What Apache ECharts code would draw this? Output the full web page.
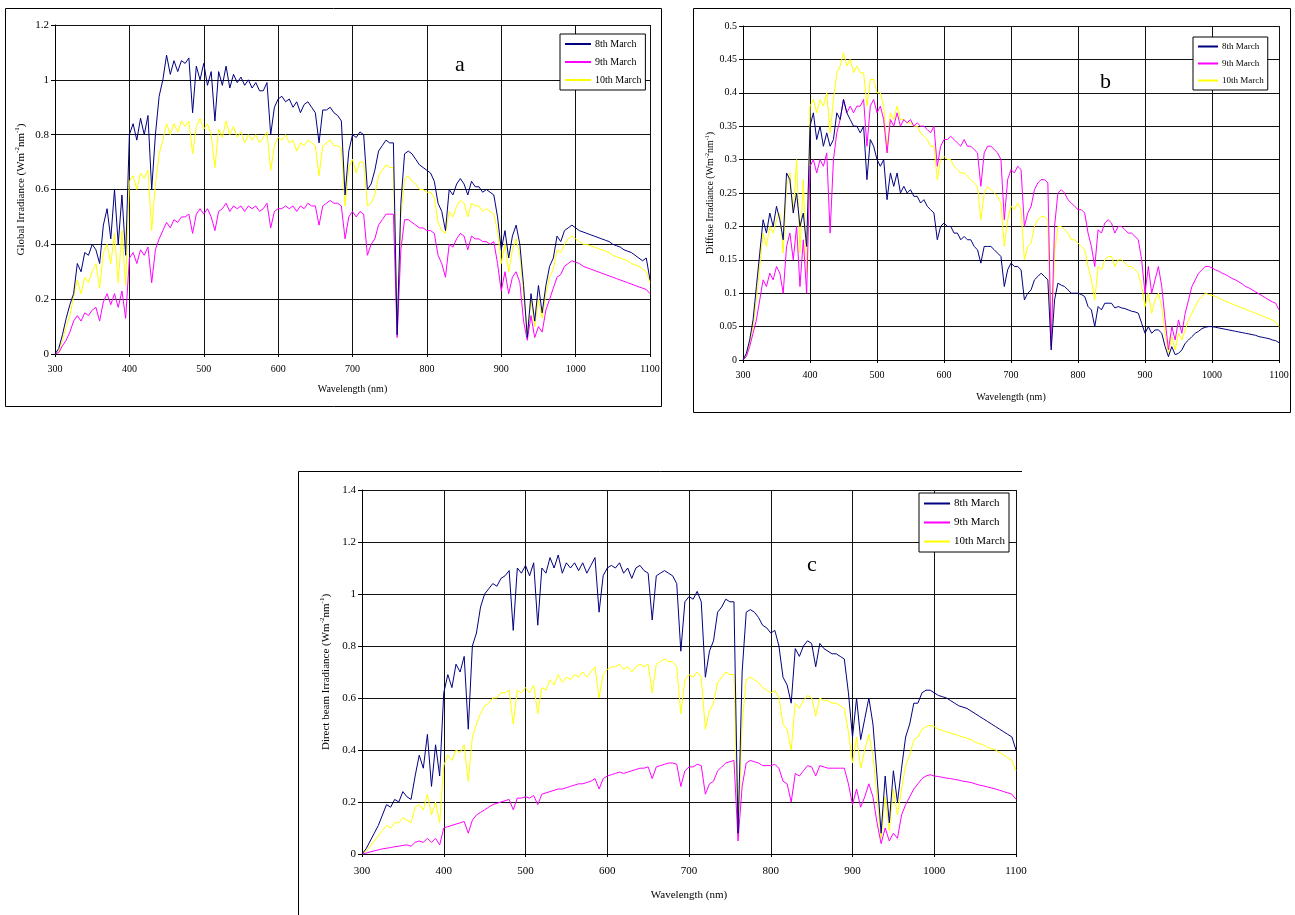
<!DOCTYPE html>
<html>
<head>
<meta charset="utf-8">
<script src="https://cdn.jsdelivr.net/npm/echarts@6/dist/echarts.min.js"></script>
<style>
  html, body { margin: 0; padding: 0; background: #fff; }
  #chart { width: 1295px; height: 915px; }
</style>
</head>
<body>
<div id="chart"></div>
<script>
// wavelength grid (nm)
const wavelengths = [
  300,305,310,315,320,325,330,335,340,345,350,355,360,365,370,375,380,385,390,395,
  400,405,410,415,420,425,430,435,440,445,450,455,460,465,470,475,480,485,490,495,
  500,505,510,515,520,525,530,535,540,545,550,555,560,565,570,575,580,585,590,595,
  600,605,610,615,620,625,630,635,640,645,650,655,660,665,670,675,680,685,690,695,
  700,705,710,715,720,725,730,735,740,745,750,755,760,765,770,775,780,785,790,795,
  800,805,810,815,820,825,830,835,840,845,850,855,860,865,870,875,880,885,890,895,
  900,905,910,915,920,925,930,935,940,945,950,955,960,965,970,975,980,985,990,995,
  1000,1005,1010,1015,1020,1025,1030,1035,1040,1045,1050,1055,1060,1065,1070,1075,1080,1085,1090,1095,
  1100
];
const seriesNames = ['8th March', '9th March', '10th March'];

// (a) global irradiance
const globalMar8 = [
  0,0.02,0.07,0.13,0.18,0.22,0.33,0.30,0.37,0.36,0.40,0.38,0.33,0.47,0.53,0.42,0.60,0.40,0.58,0.36,
  0.80,0.84,0.78,0.86,0.80,0.87,0.60,0.80,0.94,1.00,1.09,1.02,1.07,1.03,1.07,1.06,1.08,0.88,1.05,1.00,
  1.06,0.98,1.03,0.85,1.03,0.98,1.05,0.97,1.02,0.99,1.01,0.98,1.00,0.97,0.99,0.96,0.96,0.99,0.80,0.90,
  0.93,0.94,0.92,0.93,0.90,0.92,0.88,0.91,0.92,0.90,0.88,0.77,0.89,0.89,0.90,0.88,0.87,0.85,0.58,0.74,
  0.80,0.79,0.81,0.80,0.60,0.62,0.67,0.74,0.76,0.78,0.77,0.77,0.07,0.55,0.73,0.74,0.73,0.71,0.69,0.68,
  0.67,0.66,0.63,0.55,0.52,0.45,0.60,0.58,0.62,0.64,0.62,0.58,0.63,0.61,0.61,0.59,0.60,0.59,0.58,0.50,
  0.38,0.45,0.35,0.43,0.47,0.40,0.25,0.06,0.22,0.12,0.25,0.15,0.25,0.32,0.35,0.43,0.41,0.45,0.46,0.47,
  0.46,0.45,0.445,0.44,0.435,0.43,0.425,0.42,0.415,0.41,0.40,0.395,0.39,0.38,0.375,0.37,0.36,0.35,0.34,0.35,
  0.27
];
const globalMar9 = [
  0,0.005,0.03,0.05,0.08,0.12,0.14,0.12,0.15,0.14,0.16,0.17,0.12,0.19,0.22,0.18,0.22,0.17,0.23,0.13,
  0.35,0.37,0.33,0.38,0.36,0.39,0.26,0.38,0.42,0.45,0.48,0.46,0.49,0.48,0.50,0.50,0.51,0.44,0.51,0.53,
  0.51,0.53,0.50,0.45,0.52,0.53,0.55,0.52,0.54,0.53,0.54,0.52,0.54,0.53,0.54,0.52,0.53,0.55,0.46,0.52,
  0.53,0.53,0.54,0.53,0.54,0.52,0.54,0.53,0.55,0.54,0.54,0.47,0.54,0.55,0.56,0.55,0.55,0.54,0.42,0.50,
  0.52,0.50,0.52,0.51,0.36,0.40,0.42,0.47,0.49,0.51,0.51,0.51,0.06,0.38,0.49,0.49,0.48,0.47,0.46,0.46,
  0.45,0.45,0.44,0.36,0.33,0.28,0.40,0.39,0.42,0.44,0.43,0.38,0.43,0.42,0.42,0.41,0.41,0.40,0.41,0.33,
  0.23,0.30,0.22,0.28,0.30,0.26,0.12,0.05,0.14,0.06,0.10,0.08,0.16,0.20,0.24,0.28,0.29,0.32,0.33,0.34,
  0.335,0.33,0.32,0.315,0.31,0.305,0.30,0.295,0.29,0.285,0.28,0.275,0.27,0.265,0.26,0.255,0.25,0.245,0.24,0.235,
  0.22
];
const globalMar10 = [
  0,0.01,0.05,0.10,0.14,0.21,0.27,0.22,0.28,0.26,0.30,0.33,0.24,0.37,0.40,0.33,0.44,0.26,0.45,0.25,
  0.63,0.65,0.60,0.66,0.64,0.67,0.45,0.62,0.73,0.78,0.84,0.80,0.84,0.81,0.85,0.83,0.85,0.73,0.83,0.86,
  0.82,0.84,0.80,0.68,0.82,0.79,0.85,0.80,0.83,0.79,0.81,0.77,0.80,0.78,0.80,0.77,0.79,0.81,0.67,0.76,
  0.79,0.78,0.80,0.77,0.78,0.74,0.77,0.76,0.78,0.77,0.76,0.65,0.76,0.77,0.78,0.76,0.76,0.75,0.54,0.68,
  0.71,0.66,0.70,0.70,0.54,0.55,0.58,0.65,0.67,0.69,0.68,0.68,0.09,0.50,0.64,0.65,0.63,0.62,0.60,0.60,
  0.59,0.59,0.57,0.48,0.45,0.44,0.52,0.50,0.54,0.56,0.55,0.50,0.55,0.54,0.54,0.52,0.53,0.52,0.51,0.45,
  0.33,0.40,0.30,0.38,0.42,0.36,0.22,0.07,0.20,0.10,0.20,0.13,0.22,0.28,0.31,0.38,0.37,0.40,0.42,0.43,
  0.42,0.41,0.40,0.40,0.395,0.39,0.385,0.38,0.375,0.37,0.36,0.355,0.35,0.345,0.34,0.33,0.325,0.32,0.31,0.30,
  0.26
];

// (b) diffuse irradiance
const diffuseMar8 = [
  0,0.01,0.03,0.06,0.11,0.16,0.21,0.19,0.22,0.20,0.23,0.21,0.18,0.28,0.27,0.22,0.25,0.20,0.22,0.17,
  0.35,0.37,0.33,0.35,0.32,0.34,0.32,0.33,0.37,0.36,0.39,0.37,0.36,0.35,0.35,0.34,0.35,0.27,0.33,0.32,
  0.30,0.29,0.30,0.24,0.28,0.26,0.28,0.25,0.26,0.25,0.255,0.245,0.245,0.235,0.24,0.23,0.225,0.22,0.18,0.20,
  0.205,0.20,0.20,0.19,0.19,0.18,0.185,0.18,0.18,0.17,0.165,0.145,0.17,0.17,0.17,0.165,0.16,0.155,0.11,0.135,
  0.145,0.14,0.14,0.135,0.09,0.10,0.105,0.12,0.125,0.13,0.125,0.12,0.015,0.09,0.115,0.112,0.11,0.105,0.10,0.10,
  0.10,0.098,0.095,0.08,0.075,0.05,0.08,0.075,0.085,0.085,0.085,0.078,0.08,0.078,0.077,0.075,0.073,0.072,0.07,0.055,
  0.04,0.05,0.04,0.045,0.045,0.04,0.02,0.005,0.02,0.008,0.01,0.015,0.025,0.03,0.035,0.04,0.043,0.047,0.049,0.05,
  0.05,0.049,0.048,0.047,0.046,0.045,0.044,0.043,0.042,0.041,0.04,0.039,0.038,0.037,0.035,0.034,0.033,0.032,0.03,0.029,
  0.026
];
const diffuseMar9 = [
  0,0.005,0.02,0.04,0.06,0.09,0.12,0.11,0.13,0.12,0.14,0.13,0.10,0.17,0.19,0.15,0.20,0.11,0.18,0.10,
  0.29,0.30,0.28,0.30,0.29,0.31,0.19,0.30,0.34,0.36,0.39,0.37,0.38,0.37,0.38,0.38,0.39,0.32,0.38,0.39,
  0.37,0.38,0.36,0.31,0.36,0.35,0.37,0.35,0.36,0.355,0.36,0.35,0.355,0.35,0.35,0.345,0.34,0.35,0.29,0.32,
  0.33,0.33,0.335,0.33,0.325,0.32,0.33,0.32,0.32,0.315,0.31,0.26,0.31,0.32,0.32,0.315,0.31,0.30,0.21,0.27,
  0.285,0.28,0.29,0.285,0.20,0.22,0.23,0.255,0.265,0.27,0.27,0.265,0.02,0.20,0.25,0.255,0.25,0.24,0.235,0.23,
  0.225,0.225,0.22,0.19,0.17,0.14,0.195,0.19,0.205,0.21,0.205,0.19,0.20,0.20,0.195,0.19,0.19,0.185,0.18,0.15,
  0.10,0.14,0.10,0.12,0.14,0.11,0.06,0.015,0.05,0.03,0.06,0.04,0.07,0.09,0.11,0.12,0.13,0.135,0.14,0.14,
  0.138,0.135,0.133,0.13,0.128,0.125,0.122,0.12,0.117,0.114,0.11,0.108,0.105,0.102,0.099,0.096,0.093,0.09,0.087,0.085,
  0.075
];
const diffuseMar10 = [
  0,0.008,0.025,0.05,0.09,0.14,0.19,0.17,0.20,0.19,0.21,0.22,0.16,0.26,0.28,0.22,0.30,0.16,0.27,0.13,
  0.38,0.39,0.37,0.39,0.38,0.40,0.34,0.39,0.43,0.44,0.46,0.44,0.45,0.43,0.44,0.43,0.43,0.38,0.42,0.42,
  0.40,0.40,0.38,0.31,0.37,0.36,0.38,0.36,0.36,0.355,0.355,0.35,0.35,0.34,0.335,0.33,0.32,0.32,0.27,0.30,
  0.305,0.30,0.30,0.29,0.285,0.28,0.28,0.275,0.27,0.265,0.26,0.21,0.25,0.26,0.255,0.25,0.245,0.235,0.17,0.21,
  0.23,0.225,0.235,0.225,0.15,0.17,0.175,0.20,0.21,0.215,0.215,0.21,0.02,0.16,0.20,0.20,0.195,0.19,0.18,0.18,
  0.175,0.17,0.165,0.14,0.12,0.09,0.14,0.135,0.15,0.155,0.155,0.14,0.15,0.15,0.145,0.14,0.14,0.135,0.13,0.11,
  0.08,0.10,0.07,0.09,0.10,0.08,0.04,0.01,0.035,0.015,0.04,0.03,0.045,0.06,0.07,0.08,0.09,0.095,0.10,0.098,
  0.097,0.095,0.093,0.09,0.088,0.086,0.084,0.082,0.08,0.078,0.076,0.074,0.072,0.07,0.068,0.066,0.064,0.062,0.06,0.057,
  0.05
];

// (c) direct beam irradiance
const directMar8 = [
  0,0.02,0.05,0.08,0.11,0.15,0.19,0.18,0.21,0.20,0.24,0.22,0.21,0.30,0.38,0.33,0.46,0.26,0.42,0.30,
  0.62,0.69,0.64,0.73,0.70,0.76,0.48,0.80,0.85,0.95,1.00,1.02,1.04,1.03,1.06,1.07,1.09,0.86,1.10,1.08,
  1.11,1.07,1.12,0.88,1.10,1.08,1.14,1.10,1.15,1.08,1.12,1.10,1.12,1.09,1.12,1.08,1.11,1.14,0.93,1.07,
  1.10,1.11,1.10,1.12,1.08,1.10,1.06,1.10,1.11,1.09,1.08,0.90,1.07,1.08,1.09,1.08,1.07,1.04,0.78,0.97,
  0.99,0.98,1.01,0.97,0.68,0.78,0.82,0.93,0.95,0.98,0.97,0.97,0.08,0.70,0.93,0.94,0.93,0.91,0.88,0.87,
  0.85,0.86,0.80,0.68,0.65,0.58,0.79,0.76,0.80,0.82,0.81,0.72,0.81,0.79,0.78,0.77,0.77,0.76,0.75,0.62,
  0.45,0.60,0.44,0.52,0.60,0.50,0.30,0.08,0.30,0.12,0.32,0.20,0.33,0.45,0.50,0.58,0.58,0.62,0.63,0.63,
  0.62,0.61,0.605,0.60,0.59,0.58,0.57,0.565,0.56,0.55,0.54,0.53,0.52,0.51,0.50,0.49,0.48,0.47,0.46,0.45,
  0.40
];
const directMar9 = [
  0,0.003,0.008,0.012,0.016,0.02,0.022,0.025,0.028,0.03,0.033,0.035,0.03,0.045,0.05,0.045,0.06,0.045,0.06,0.035,
  0.10,0.105,0.11,0.115,0.12,0.125,0.08,0.13,0.15,0.16,0.17,0.18,0.19,0.195,0.20,0.205,0.21,0.17,0.215,0.215,
  0.22,0.215,0.225,0.19,0.23,0.235,0.24,0.245,0.25,0.25,0.255,0.26,0.265,0.27,0.27,0.275,0.28,0.29,0.25,0.29,
  0.30,0.305,0.31,0.315,0.31,0.315,0.32,0.325,0.33,0.33,0.335,0.29,0.335,0.34,0.345,0.35,0.35,0.345,0.26,0.32,
  0.335,0.335,0.345,0.34,0.23,0.27,0.28,0.32,0.335,0.35,0.355,0.36,0.05,0.26,0.35,0.36,0.355,0.35,0.34,0.34,
  0.34,0.345,0.33,0.28,0.27,0.20,0.31,0.30,0.32,0.34,0.335,0.30,0.34,0.335,0.33,0.33,0.33,0.33,0.33,0.27,
  0.19,0.25,0.18,0.22,0.27,0.22,0.12,0.04,0.10,0.05,0.08,0.06,0.15,0.19,0.22,0.25,0.27,0.29,0.30,0.305,
  0.30,0.298,0.295,0.292,0.29,0.287,0.284,0.28,0.278,0.275,0.27,0.265,0.262,0.258,0.254,0.25,0.245,0.24,0.235,0.23,
  0.21
];
const directMar10 = [
  0,0.01,0.03,0.05,0.07,0.09,0.11,0.10,0.12,0.12,0.14,0.13,0.12,0.18,0.19,0.17,0.23,0.15,0.20,0.12,
  0.34,0.38,0.36,0.40,0.39,0.42,0.28,0.45,0.50,0.54,0.57,0.58,0.60,0.60,0.62,0.62,0.63,0.50,0.63,0.62,
  0.64,0.62,0.65,0.54,0.64,0.63,0.67,0.65,0.69,0.66,0.68,0.67,0.69,0.68,0.70,0.68,0.70,0.72,0.60,0.69,
  0.71,0.72,0.72,0.73,0.71,0.72,0.70,0.72,0.73,0.72,0.73,0.62,0.73,0.74,0.75,0.74,0.74,0.72,0.54,0.67,
  0.69,0.68,0.70,0.68,0.48,0.55,0.58,0.66,0.68,0.70,0.69,0.69,0.07,0.50,0.67,0.68,0.67,0.66,0.64,0.63,
  0.62,0.63,0.60,0.50,0.48,0.40,0.58,0.56,0.59,0.61,0.60,0.53,0.60,0.59,0.59,0.58,0.58,0.57,0.56,0.47,
  0.35,0.45,0.33,0.40,0.46,0.38,0.22,0.06,0.22,0.09,0.25,0.15,0.25,0.34,0.38,0.44,0.45,0.48,0.49,0.495,
  0.49,0.48,0.475,0.47,0.465,0.46,0.455,0.45,0.445,0.44,0.43,0.425,0.42,0.41,0.405,0.40,0.39,0.38,0.37,0.36,
  0.32
];

const colors = ['#000080', '#ff00ff', '#ffff00'];
const serif = 'Liberation Serif';

const chart = echarts.init(document.getElementById('chart'));

function pairs(arr) {
  return wavelengths.map((w, i) => [w, arr[i]]);
}

function yName(label) {
  return '{n|' + label + ' (Wm}{s|-2}{n|nm}{s|-1}{n|)}';
}

function xAxisFor(idx, fs, labelGap, nameGap) {
  return {
    gridIndex: idx, type: 'value', min: 300, max: 1100, interval: 100,
    name: 'Wavelength (nm)', nameLocation: 'middle', nameGap: nameGap,
    nameTextStyle: { fontFamily: serif, fontSize: fs, color: '#000' },
    axisLine: { onZero: false, lineStyle: { color: '#000', width: 1 } },
    axisTick: { show: true, length: 3, lineStyle: { color: '#000' } },
    axisLabel: { fontFamily: serif, fontSize: fs, color: '#000', margin: labelGap, formatter: (v) => String(v) },
    splitLine: { show: true, lineStyle: { color: '#111', width: 1 } }
  };
}

function yAxisFor(idx, max, interval, fs, label, nameGap) {
  return {
    gridIndex: idx, type: 'value', min: 0, max: max, interval: interval,
    name: yName(label), nameLocation: 'middle', nameGap: nameGap, nameRotate: 90,
    nameTextStyle: {
      rich: {
        n: { fontFamily: serif, fontSize: fs, color: '#000' },
        s: { fontFamily: serif, fontSize: fs - 4, color: '#000', padding: [0, 0, 7, 0] }
      }
    },
    axisLine: { show: true, lineStyle: { color: '#000', width: 1 } },
    axisTick: { show: true, length: 4, lineStyle: { color: '#000' } },
    axisLabel: { fontFamily: serif, fontSize: fs, color: '#000', margin: 6 },
    splitLine: { show: true, lineStyle: { color: '#111', width: 1 } }
  };
}

function legendFor(left, top, fs, gap, iconW) {
  return {
    left: left, top: top, orient: 'vertical',
    data: seriesNames,
    icon: 'rect', itemWidth: iconW, itemHeight: 2, itemGap: gap,
    borderColor: '#000', borderWidth: 1, backgroundColor: '#fff',
    padding: [5, 4, 5, 5],
    textStyle: { fontFamily: serif, fontSize: fs, color: '#000', padding: [0, 0, 0, -1] },
    selectedMode: false
  };
}

const groups = [
  [globalMar8, globalMar9, globalMar10],
  [diffuseMar8, diffuseMar9, diffuseMar10],
  [directMar8, directMar9, directMar10]
];

const series = [];
groups.forEach((grp, g) => {
  grp.forEach((arr, k) => {
    series.push({
      name: seriesNames[k], type: 'line', xAxisIndex: g, yAxisIndex: g,
      data: pairs(arr), showSymbol: false, symbol: 'none',
      lineStyle: { color: colors[k], width: 1 }, itemStyle: { color: colors[k] },
      z: 10 - k
    });
  });
});

chart.setOption({
  animation: false,
  backgroundColor: '#fff',
  grid: [
    { left: 55, top: 25, width: 595, height: 329 },
    { left: 743, top: 26, width: 536, height: 334 },
    { left: 362, top: 490, width: 654, height: 364 }
  ],
  xAxis: [
    xAxisFor(0, 10, 10, 30),
    xAxisFor(1, 10, 10, 32),
    xAxisFor(2, 11, 12, 36)
  ],
  yAxis: [
    yAxisFor(0, 1.2, 0.2, 11, 'Global Irradiance', 27),
    yAxisFor(1, 0.5, 0.05, 10, 'Diffuse Irradiance', 26),
    yAxisFor(2, 1.4, 0.2, 11, 'Direct beam Irradiance', 28)
  ],
  legend: [
    legendFor(560, 34, 10, 8, 26),
    legendFor(1193, 37, 9, 8, 20),
    legendFor(919, 493, 11, 8, 26)
  ],
  series: series,
  graphic: [
    { type: 'rect', shape: { x: 5.5, y: 8.5, width: 656, height: 398 }, style: { fill: 'none', stroke: '#000', lineWidth: 1 }, silent: true },
    { type: 'rect', shape: { x: 693.5, y: 8.5, width: 597, height: 404 }, style: { fill: 'none', stroke: '#000', lineWidth: 1 }, silent: true },
    { type: 'polyline', shape: { points: [[298.5, 915], [298.5, 471.5], [1022, 471.5]] }, style: { fill: 'none', stroke: '#000', lineWidth: 1 }, silent: true },
    { type: 'text', left: 455, top: 54, style: { text: 'a', font: '22px "Liberation Serif"', fill: '#000' }, z: 20 },
    { type: 'text', left: 1100, top: 71, style: { text: 'b', font: '22px "Liberation Serif"', fill: '#000' }, z: 20 },
    { type: 'text', left: 807, top: 554, style: { text: 'c', font: '22px "Liberation Serif"', fill: '#000' }, z: 20 }
  ]
});
</script>
</body>
</html>
